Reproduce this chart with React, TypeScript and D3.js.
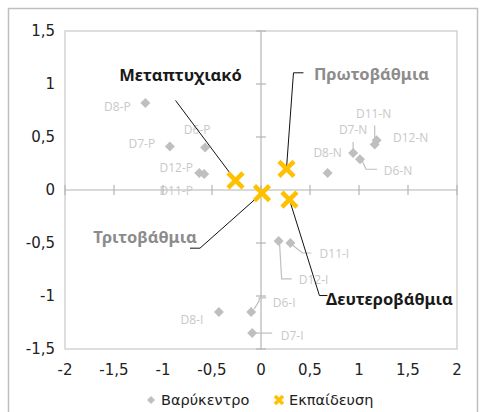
import React from "react";
import * as d3 from "d3";

// ---- data ----
const centroidNames = ["D8-P", "D7-P", "D6-P", "D12-P", "D11-P", "D8-N", "D7-N", "D6-N", "D11-N", "D12-N", "D11-I", "D12-I", "D6-I", "D7-I", "D8-I"];
const centroidX = [-1.18, -0.93, -0.57, -0.63, -0.58, 0.68, 0.94, 1.01, 1.16, 1.18, 0.30, 0.18, -0.10, -0.09, -0.43];
const centroidY = [0.82, 0.41, 0.40, 0.16, 0.15, 0.16, 0.35, 0.29, 0.43, 0.47, -0.50, -0.48, -1.15, -1.35, -1.15];

const eduNames = ["Μεταπτυχιακό", "Πρωτοβάθμια", "Τριτοβάθμια", "Δευτεροβάθμια"];
const eduX = [-0.26, 0.26, 0.01, 0.29];
const eduY = [0.09, 0.20, -0.03, -0.09];

const xTicks = [-2, -1.5, -1, -0.5, 0, 0.5, 1, 1.5, 2];
const yTicks = [-1.5, -1, -0.5, 0, 0.5, 1, 1.5];
const legendLabels = ["Βαρύκεντρο", "Εκπαίδευση"];

// ---- layout (pixel offsets for labels / leaders) ----
const centroidLabelOffset: Record<string, [number, number]> = {
  "D8-P": [-28, 3], "D7-P": [-28, -3], "D6-P": [-8, -18], "D12-P": [-23, -6], "D11-P": [-28, 16],
  "D8-N": [0, -21], "D7-N": [0, -23], "D6-N": [38, 11], "D11-N": [-1, -31], "D12-N": [34, -3],
  "D11-I": [44, 10], "D12-I": [35, 39], "D6-I": [33, -9], "D7-I": [40, 2], "D8-I": [-27, 8],
};
const centroidLeaders: Record<string, [number, number][]> = {
  "D11-N": [[0, -4], [0, -19]],
  "D7-N": [[0, -4], [0, -11]],
  "D6-N": [[2, 1], [6, 10], [17, 10]],
  "D11-I": [[2, 2], [12, 10], [21, 10]],
  "D12-I": [[1, 4], [3, 38], [13, 38]],
  "D6-I": [[3, -3], [8, -11], [8, -14], [15, -14]],
  "D7-I": [[3, 0], [20, 0]],
};
const eduLabelOffset: [number, number][] = [[-55, -106], [85, -95], [-117, 43], [100, 99]];
const eduLeaders: [number, number][][] = [
  [[-60, -80], [0, 0]],
  [[17, -96], [7, -96], [0, 0]],
  [[-72, 55], [-62, 55], [0, 0]],
  [[0, 0], [30, 96], [38, 96]],
];
const eduColors = ["#1a1a1a", "#8c8c8c", "#8c8c8c", "#1a1a1a"];

const W = 481, H = 412;
const FONT = "'Noto Sans', 'DejaVu Sans', sans-serif";
const TICK_FONT = "'DejaVu Sans', sans-serif";
const GRAY_MARK = "#bfbfbf";
const GRAY_LABEL = "#c8c8c8";
const YELLOW = "#ffc000";

export default function App() {
  const x = d3.scaleLinear().domain([-2, 2]).range([65, 457]);
  const y = d3.scaleLinear().domain([-1.5, 1.5]).range([349, 31]);
  const line = d3.line();
  const diamond = (cx: number, cy: number, r: number) =>
    `M${cx},${cy - r}L${cx + r},${cy}L${cx},${cy + r}L${cx - r},${cy}Z`;
  const cross = (cx: number, cy: number, r: number) =>
    `M${cx - r},${cy - r}L${cx + r},${cy + r}M${cx - r},${cy + r}L${cx + r},${cy - r}`;

  const x0 = x(0), y0 = y(0);

  return (
    <svg width={W} height={H} style={{ position: "absolute", left: 0, top: 0, background: "#fff" }}>
      {/* outer chart border */}
      <rect x={8.5} y={8.5} width={469} height={420} fill="#fff" stroke="#bfbfbf" strokeWidth={1.5} />
      {/* plot area border */}
      <rect x={x(-2)} y={y(1.5)} width={x(2) - x(-2)} height={y(-1.5) - y(1.5)} fill="none" stroke="#c8c8c8" strokeWidth={1.2} />
      {/* zero axes */}
      <line x1={x(-2)} x2={x(2)} y1={y0} y2={y0} stroke="#b4b4b4" strokeWidth={1.2} />
      <line x1={x0} x2={x0} y1={y(1.5)} y2={y(-1.5)} stroke="#b4b4b4" strokeWidth={1.2} />
      {xTicks.map((t) => (
        <line key={"xt" + t} x1={x(t)} x2={x(t)} y1={y0 - 5} y2={y0 + 5} stroke="#b4b4b4" strokeWidth={1.2} />
      ))}
      {yTicks.map((t) => (
        <line key={"yt" + t} x1={x0 - 5} x2={x0 + 5} y1={y(t)} y2={y(t)} stroke="#b4b4b4" strokeWidth={1.2} />
      ))}
      {/* tick labels */}
      {yTicks.map((t) => (
        <text key={"yl" + t} x={55} y={y(t)} textAnchor="end" dominantBaseline="central" fontFamily={TICK_FONT} fontSize={15} fill="#222">
          {String(t).replace(".", ",")}
        </text>
      ))}
      {xTicks.map((t) => (
        <text key={"xl" + t} x={x(t)} y={370} textAnchor="middle" dominantBaseline="central" fontFamily={TICK_FONT} fontSize={15} fill="#222">
          {String(t).replace(".", ",")}
        </text>
      ))}

      {/* centroid leaders */}
      {centroidNames.map((n, i) => {
        const pts = centroidLeaders[n];
        if (!pts) return null;
        const px = x(centroidX[i]), py = y(centroidY[i]);
        return <path key={"cl" + n} d={line(pts.map(([dx, dy]) => [px + dx, py + dy]))!} fill="none" stroke={GRAY_MARK} strokeWidth={1.2} />;
      })}
      {/* centroid diamonds */}
      {centroidNames.map((n, i) => (
        <path key={"cd" + n} d={diamond(x(centroidX[i]), y(centroidY[i]), 5)} fill={GRAY_MARK} />
      ))}
      {/* centroid labels */}
      {centroidNames.map((n, i) => {
        const [dx, dy] = centroidLabelOffset[n];
        return (
          <text key={"ct" + n} x={x(centroidX[i]) + dx} y={y(centroidY[i]) + dy} textAnchor="middle" dominantBaseline="central"
            fontFamily="'Open Sans', sans-serif" fontSize={12} fill={GRAY_LABEL}>
            {n}
          </text>
        );
      })}

      {/* education leaders */}
      {eduNames.map((n, i) => {
        const px = x(eduX[i]), py = y(eduY[i]);
        return <path key={"el" + n} d={line(eduLeaders[i].map(([dx, dy]) => [px + dx, py + dy]))!} fill="none" stroke="#111" strokeWidth={1} />;
      })}
      {/* education markers */}
      {eduNames.map((n, i) => (
        <path key={"em" + n} d={cross(x(eduX[i]), y(eduY[i]), 7.5)} stroke={YELLOW} strokeWidth={4.5} fill="none" />
      ))}
      {/* education labels */}
      {eduNames.map((n, i) => (
        <text key={"et" + n} x={x(eduX[i]) + eduLabelOffset[i][0]} y={y(eduY[i]) + eduLabelOffset[i][1]} textAnchor="middle"
          dominantBaseline="central" fontFamily={FONT} fontWeight="bold" fontSize={16.5} fill={eduColors[i]}>
          {n}
        </text>
      ))}

      {/* legend */}
      <path d={diamond(151, 400, 4)} fill={GRAY_MARK} />
      <text x={161} y={400} dominantBaseline="central" fontFamily={TICK_FONT} fontSize={14.5} fill="#222">{legendLabels[0]}</text>
      <path d={cross(279, 400, 4)} stroke={YELLOW} strokeWidth={3.5} fill="none" />
      <text x={289} y={400} dominantBaseline="central" fontFamily={TICK_FONT} fontSize={14.5} fill="#222">{legendLabels[1]}</text>
    </svg>
  );
}
